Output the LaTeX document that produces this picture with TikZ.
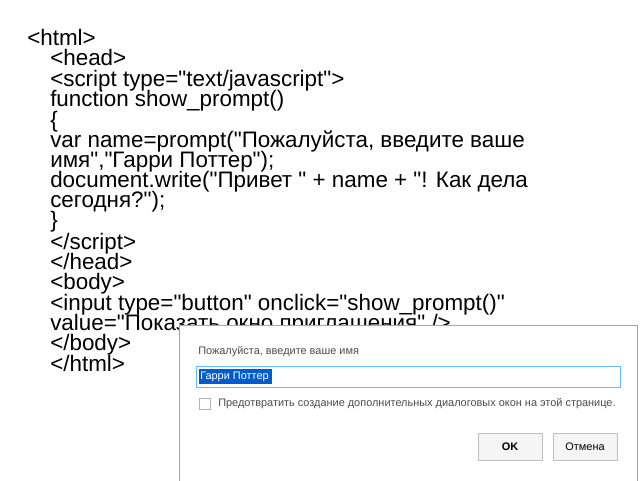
\documentclass[tikz,border=0pt]{standalone}
\usepackage{fontspec}
\newfontfamily\codefont{Liberation Sans}
\setmainfont{Liberation Sans}
\newcommand{\dq}{"}
\begin{document}
\begin{tikzpicture}[x=0.75pt,y=-0.75pt,
  code/.style={anchor=base west,inner sep=0pt,font=\codefont\fontsize{16.8}{18}\selectfont},
  small/.style={anchor=west,inner sep=0pt,font=\codefont\fontsize{8.2}{9}\selectfont,text=black!70},
  btn/.style={draw=black!25,fill=black!4,minimum width=48pt,minimum height=20pt,inner sep=0pt,font=\codefont\fontsize{8.2}{9}\selectfont}]
\useasboundingbox[fill=white] (0,0) rectangle (640,480);
\node[code] (l1) at (27,45) {<html>};
\node[code] (l2) at (50,65) {<head>};
\node[code] (l3) at (50,86) {<script type=\dq text/javascript\dq>};
\node[code] (l4) at (50,106) {function show\_prompt()};
\node[code] (l5) at (50,127) {\{};
\node[code] (l6) at (50,147) {var name=prompt(\dq Пожалуйста, введите ваше};
\node[code] (l7) at (50,167) {имя\dq,\dq Гарри Поттер\dq);};
\node[code] (l8) at (50,187) {document.write(\dq Привет \dq\ + name + \dq! Как дела};
\node[code] (l9) at (50,207) {сегодня?\dq);};
\node[code] (l10) at (50,227) {\}};
\node[code] (l11) at (50,249) {</script>};
\node[code] (l12) at (50,269) {</head>};
\node[code] (l13) at (50,289) {<body>};
\node[code] (l14) at (50,310) {<input type=\dq button\dq\ onclick=\dq show\_prompt()\dq};
\node[code] (l15) at (50,330) {value=\dq Показать окно приглашения\dq\ />};
\node[code] (l16) at (50,350) {</body>};
\node[code] (l17) at (50,371) {</html>};
% dialog
\draw[draw=black!35,fill=white] (179,325) rectangle (637,481);
\node[small] (t1) at (198,352) {Пожалуйста, введите ваше имя};
\draw[draw=blue!45!cyan!60,fill=white] (196,366) rectangle (620,387);
\fill[blue!55!cyan!80!black] (199,369) rectangle (272,384);
\node[small,text=white] (t2) at (200,376.5) {Гарри Поттер};
\draw[draw=black!30,fill=white] (199,398) rectangle (210,409);
\node[small] (t3) at (218,403.5) {Предотвратить создание дополнительных диалоговых окон на этой странице.};
\node[btn,font=\codefont\bfseries\fontsize{8.2}{9}\selectfont] (ok) at (510,446.5) {OK};
\node[btn] (cancel) at (585,446.5) {Отмена};
\end{tikzpicture}
\end{document}
